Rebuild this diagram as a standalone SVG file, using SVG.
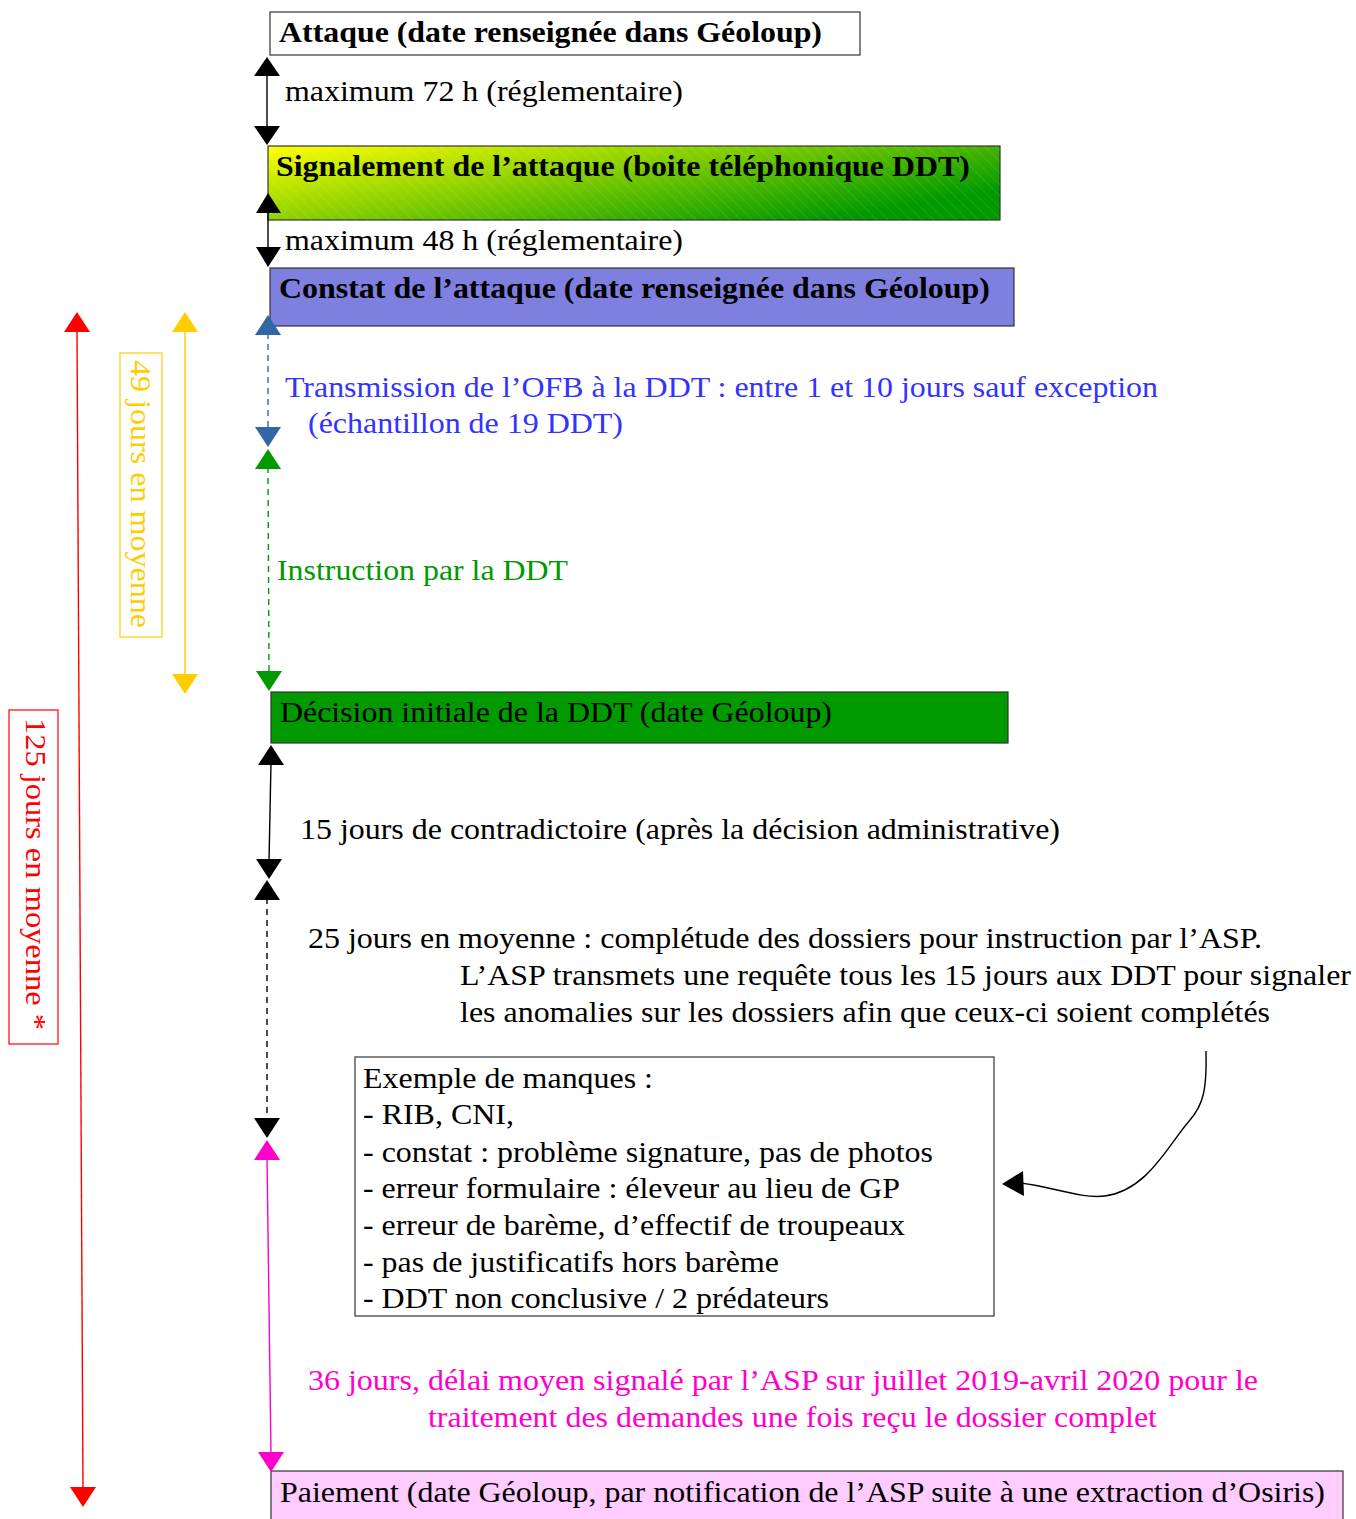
<svg xmlns="http://www.w3.org/2000/svg" width="1356" height="1519" viewBox="0 0 1356 1519">
<style>
text{font-family:"Liberation Serif","Times New Roman",serif;font-size:30px;fill:#000}
.b{font-weight:bold}
.box{stroke:#333;stroke-width:1.2}
.ln{fill:none;stroke-width:1.4}
</style>
<defs>
<linearGradient id="g1" x1="0" y1="0" x2="1" y2="0.6">
<stop offset="0" stop-color="#ffff00"/>
<stop offset="1" stop-color="#009900"/>
</linearGradient>
<pattern id="hatch" width="8" height="8" patternUnits="userSpaceOnUse" patternTransform="rotate(-45)">
<line x1="0" y1="0" x2="0" y2="8" stroke="#ffffff" stroke-opacity="0.18" stroke-width="1"/>
</pattern>
</defs>
<rect width="1356" height="1519" fill="#fff"/>

<g id="n-attaque">
<rect class="box" x="270" y="12" width="590" height="43" fill="#fff"/>
<text class="b" x="279" y="42" textLength="543" lengthAdjust="spacingAndGlyphs">Attaque (date renseignée dans Géoloup)</text>
</g>
<g id="n-signalement">
<rect class="box" x="268" y="146" width="732" height="74" fill="url(#g1)"/>
<rect x="268" y="146" width="732" height="74" fill="url(#hatch)"/>
<text class="b" x="276" y="176" textLength="694" lengthAdjust="spacingAndGlyphs">Signalement de l’attaque (boite téléphonique DDT)</text>
</g>
<g id="n-constat">
<rect class="box" x="270" y="268" width="744" height="58" fill="#7f7fe0"/>
<text class="b" x="279" y="298" textLength="711" lengthAdjust="spacingAndGlyphs">Constat de l’attaque (date renseignée dans Géoloup)</text>
</g>
<g id="n-decision">
<rect class="box" x="271" y="692" width="737" height="51" fill="#009900"/>
<text x="280" y="722" textLength="552" lengthAdjust="spacingAndGlyphs">Décision initiale de la DDT (date Géoloup)</text>
</g>
<g id="n-manques">
<rect class="box" x="355" y="1057" width="639" height="259" fill="#fff"/>
<text x="363" y="1088" textLength="290" lengthAdjust="spacingAndGlyphs">Exemple de manques :</text>
<text x="363" y="1124" textLength="151" lengthAdjust="spacingAndGlyphs">- RIB, CNI,</text>
<text x="363" y="1162" textLength="570" lengthAdjust="spacingAndGlyphs">- constat : problème signature, pas de photos</text>
<text x="363" y="1198" textLength="537" lengthAdjust="spacingAndGlyphs">- erreur formulaire : éleveur au lieu de GP</text>
<text x="363" y="1235" textLength="542" lengthAdjust="spacingAndGlyphs">- erreur de barème, d’effectif de troupeaux</text>
<text x="363" y="1272" textLength="416" lengthAdjust="spacingAndGlyphs">- pas de justificatifs hors barème</text>
<text x="363" y="1308" textLength="466" lengthAdjust="spacingAndGlyphs">- DDT non conclusive / 2 prédateurs</text>
</g>
<g id="n-paiement">
<rect class="box" x="271" y="1471" width="1072" height="60" fill="#ffccff"/>
<text x="280" y="1502" textLength="1045" lengthAdjust="spacingAndGlyphs">Paiement (date Géoloup, par notification de l’ASP suite à une extraction d’Osiris)</text>
</g>

<g id="n-49">
<rect x="120" y="353" width="42" height="284" fill="none" stroke="#ffcc00" stroke-width="1.2"/>
<text transform="translate(131,360) rotate(90)" textLength="268" lengthAdjust="spacingAndGlyphs" style="fill:#ffcc00">49 jours en moyenne</text>
</g>
<g id="n-125">
<rect x="9" y="710" width="49" height="334" fill="none" stroke="#ff0000" stroke-width="1.2"/>
<text transform="translate(26,718) rotate(90)" textLength="312" lengthAdjust="spacingAndGlyphs" style="fill:#ff0000">125 jours en moyenne *</text>
</g>

<g id="labels">
<text x="285" y="101" textLength="398" lengthAdjust="spacingAndGlyphs">maximum 72 h (réglementaire)</text>
<text x="285" y="250" textLength="398" lengthAdjust="spacingAndGlyphs">maximum 48 h (réglementaire)</text>
<text x="285" y="397" textLength="873" lengthAdjust="spacingAndGlyphs" style="fill:#3333ff">Transmission de l’OFB à la DDT : entre 1 et 10 jours sauf exception</text>
<text x="308" y="433" textLength="315" lengthAdjust="spacingAndGlyphs" style="fill:#3333ff">(échantillon de 19 DDT)</text>
<text x="277" y="580" textLength="291" lengthAdjust="spacingAndGlyphs" style="fill:#009900">Instruction par la DDT</text>
<text x="300" y="839" textLength="760" lengthAdjust="spacingAndGlyphs">15 jours de contradictoire (après la décision administrative)</text>
<text x="308" y="948" textLength="954" lengthAdjust="spacingAndGlyphs">25 jours en moyenne : complétude des dossiers pour instruction par l’ASP.</text>
<text x="460" y="985" textLength="891" lengthAdjust="spacingAndGlyphs">L’ASP transmets une requête tous les 15 jours aux DDT pour signaler</text>
<text x="460" y="1022" textLength="810" lengthAdjust="spacingAndGlyphs">les anomalies sur les dossiers afin que ceux-ci soient complétés</text>
<text x="308" y="1390" textLength="950" lengthAdjust="spacingAndGlyphs" style="fill:#ff00cc">36 jours, délai moyen signalé par l’ASP sur juillet 2019-avril 2020 pour le</text>
<text x="428" y="1427" textLength="729" lengthAdjust="spacingAndGlyphs" style="fill:#ff00cc">traitement des demandes une fois reçu le dossier complet</text>
</g>

<g id="connectors">
<!-- 72h -->
<line class="ln" x1="267" y1="72" x2="267" y2="130" stroke="#000"/>
<polygon points="267,57 254,76 280,76" fill="#000"/>
<polygon points="267,145 254,126 280,126" fill="#000"/>
<!-- 48h -->
<line class="ln" x1="268" y1="210" x2="268" y2="252" stroke="#000"/>
<polygon points="268,193 256,213 281,213" fill="#000"/>
<polygon points="268,267 256,247 281,247" fill="#000"/>
<!-- blue -->
<line class="ln" x1="268" y1="333" x2="268" y2="430" stroke="#3465a4" stroke-dasharray="6,5"/>
<polygon points="268,315 255,335 281,335" fill="#3465a4"/>
<polygon points="268,447 255,427 281,427" fill="#3465a4"/>
<!-- green -->
<line class="ln" x1="268" y1="467" x2="269" y2="673" stroke="#009900" stroke-dasharray="6,5"/>
<polygon points="268,449 255,469 281,469" fill="#009900"/>
<polygon points="269,691 256,671 282,671" fill="#009900"/>
<!-- yellow -->
<line class="ln" x1="185" y1="330" x2="185" y2="676" stroke="#ffcc00"/>
<polygon points="185,312 172,332 198,332" fill="#ffcc00"/>
<polygon points="185,694 172,674 198,674" fill="#ffcc00"/>
<!-- red -->
<line class="ln" x1="77" y1="330" x2="83" y2="1490" stroke="#ff0000"/>
<polygon points="77,312 64,332 90,332" fill="#ff0000"/>
<polygon points="83,1507 70,1487 96,1487" fill="#ff0000"/>
<!-- 15 jours -->
<line class="ln" x1="271" y1="762" x2="269" y2="862" stroke="#000"/>
<polygon points="271,745 258,765 284,765" fill="#000"/>
<polygon points="269,879 256,859 282,859" fill="#000"/>
<!-- 25 jours dashed -->
<line class="ln" x1="267" y1="898" x2="267" y2="1120" stroke="#000" stroke-dasharray="6,5"/>
<polygon points="267,880 254,900 280,900" fill="#000"/>
<polygon points="267,1138 254,1118 280,1118" fill="#000"/>
<!-- magenta -->
<line class="ln" x1="267" y1="1158" x2="271" y2="1455" stroke="#ff00cc"/>
<polygon points="267,1140 254,1160 280,1160" fill="#ff00cc"/>
<polygon points="271,1472 258,1452 284,1452" fill="#ff00cc"/>
<!-- curved -->
<path class="ln" d="M1206,1051 C1207,1090 1203,1105 1190,1120 C1168,1145 1148,1190 1105,1196 C1080,1199 1050,1186 1020,1183" stroke="#000"/>
<polygon points="1002,1184 1023,1171 1024,1196" fill="#000"/>
</g>
</svg>
